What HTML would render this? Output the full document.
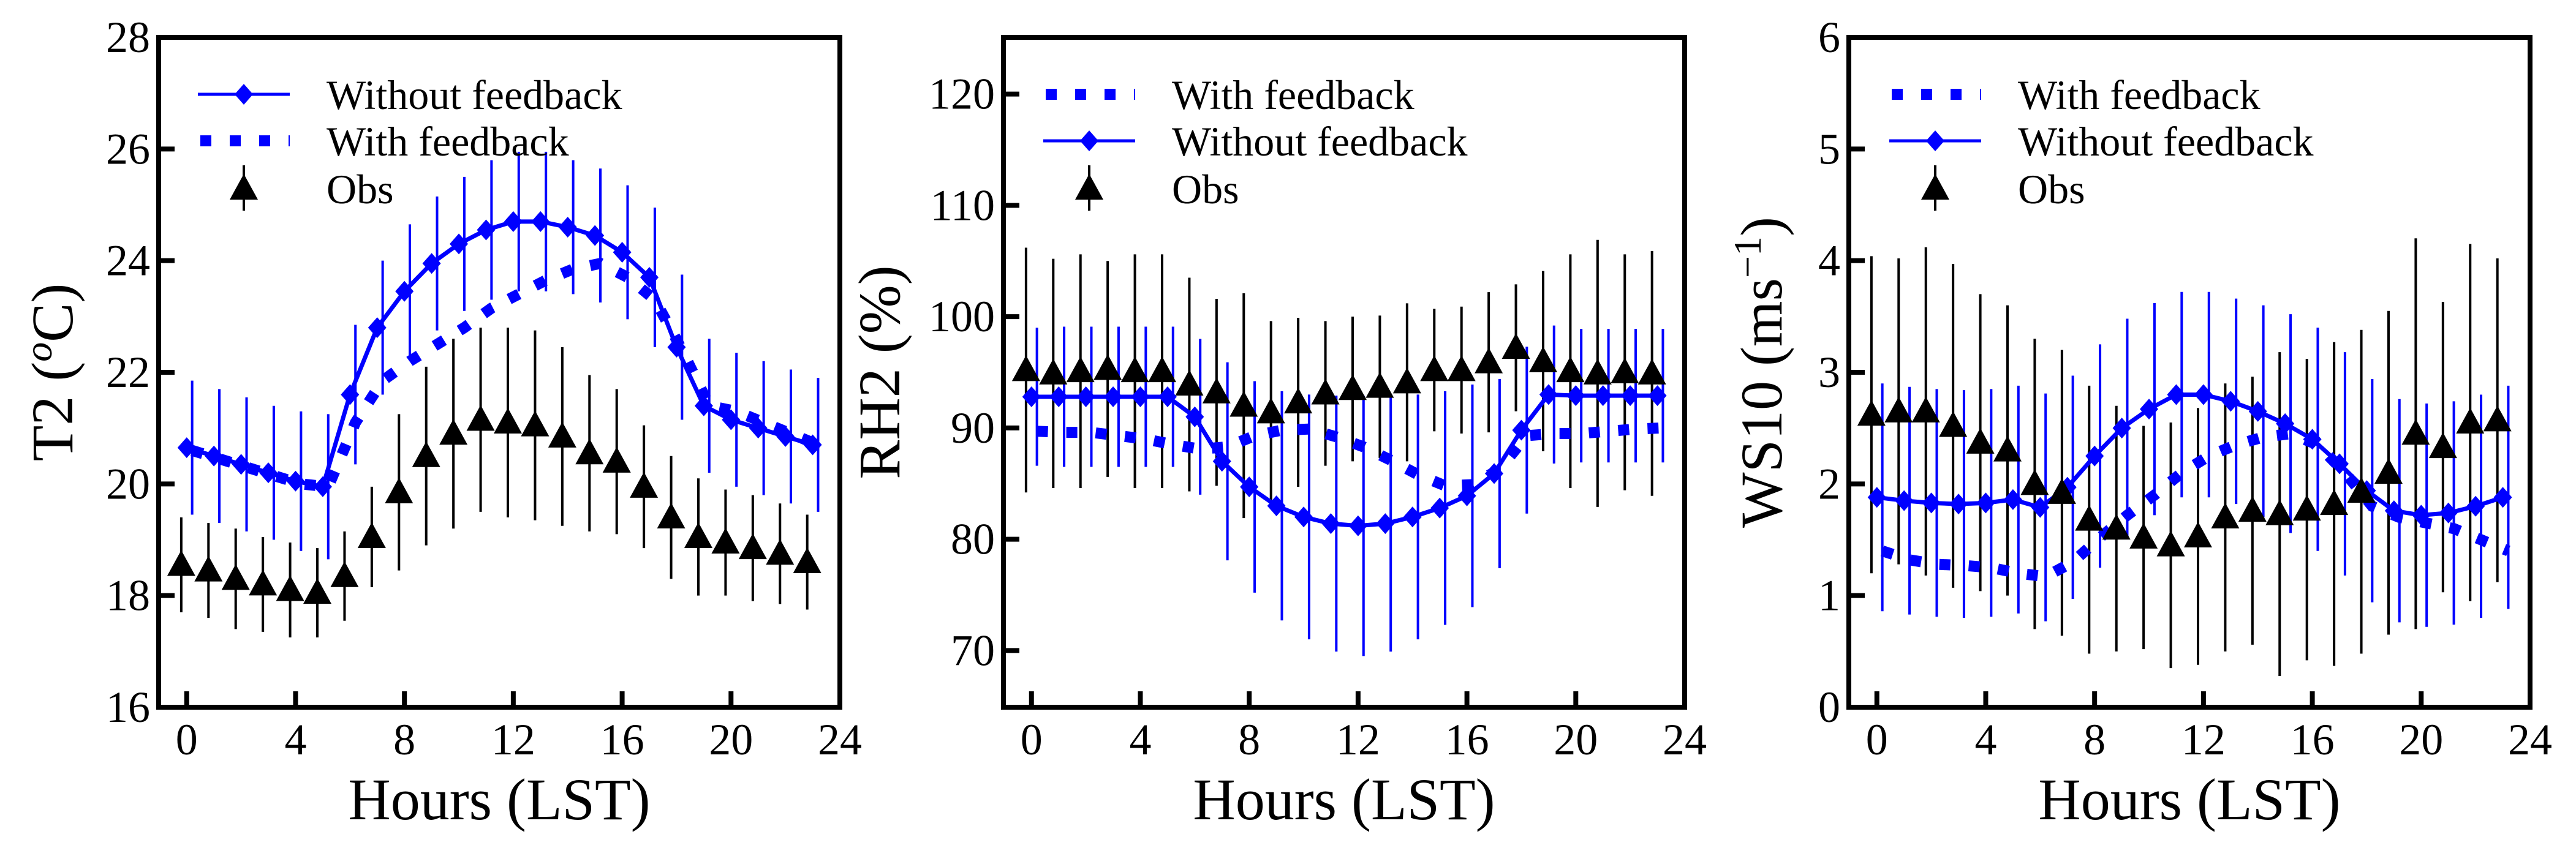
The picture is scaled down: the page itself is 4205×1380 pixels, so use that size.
<!DOCTYPE html>
<html><head><meta charset="utf-8"><style>
html,body{margin:0;padding:0;background:#fff}
svg{display:block}
text{font-family:"Liberation Serif","Times New Roman",serif;fill:#000}
</style></head><body>
<svg id="fig" width="4205" height="1380" viewBox="0 0 4205 1380" xmlns="http://www.w3.org/2000/svg"></svg>
<script>
const hours=[0,1,2,3,4,5,6,7,8,9,10,11,12,13,14,15,16,17,18,19,20,21,22,23];
// Panel 1: T2
const t2Without=[20.65,20.5,20.35,20.2,20.05,19.95,21.6,22.8,23.45,23.95,24.3,24.55,24.7,24.7,24.6,24.45,24.15,23.7,22.45,21.4,21.15,21.0,20.85,20.7];
const t2With=[20.6,20.45,20.3,20.15,20.0,19.95,21.1,21.85,22.2,22.5,22.8,23.15,23.4,23.65,23.85,23.95,23.7,23.3,22.4,21.4,21.3,21.1,20.9,20.7];
const t2ModelErr=[1.2,1.2,1.2,1.2,1.25,1.3,1.25,1.2,1.2,1.2,1.2,1.25,1.25,1.25,1.2,1.2,1.2,1.25,1.3,1.2,1.2,1.2,1.2,1.2];
const t2Obs=[18.55,18.45,18.3,18.2,18.1,18.05,18.35,19.05,19.85,20.5,20.9,21.15,21.1,21.05,20.85,20.55,20.4,19.95,19.4,19.05,18.95,18.85,18.75,18.6];
const t2ObsErr=[0.85,0.85,0.9,0.85,0.85,0.8,0.8,0.9,1.4,1.6,1.7,1.65,1.7,1.7,1.6,1.4,1.3,1.1,1.1,1.05,0.95,0.95,0.9,0.85];
const t2Ticks=[16,18,20,22,24,26,28];
// Panel 2: RH2
const rhWithout=[92.8,92.8,92.8,92.8,92.8,92.8,91.0,87.0,84.7,83.0,82.0,81.4,81.2,81.4,82.0,82.8,83.9,85.9,89.8,93.0,92.9,92.9,92.9,92.9];
const rhWith=[89.7,89.6,89.6,89.3,89.0,88.5,88.1,88.3,89.3,89.8,89.9,89.2,88.3,87.1,85.8,84.8,84.9,86.3,89.3,89.5,89.5,89.7,89.9,90.0];
const rhModelErr=[6.2,6.3,6.3,6.3,6.3,6.3,7,8.9,9.5,10.3,11,11.5,11.7,11.5,11,10.5,10,8.5,7.5,6.2,6,6,6,6];
const rhObs=[95.2,94.9,95.1,95.3,95.1,95.1,93.9,93.2,92.0,91.4,92.3,93.1,93.5,93.7,94.1,95.2,95.2,95.9,97.2,96.0,95.1,94.9,95.0,94.9];
const rhObsErr=[11,10.3,10.5,9.7,10.5,10.5,9.6,8.4,10.1,8.2,7.6,6.5,6.5,6.4,7.1,5.5,5.7,6.3,5.7,8.1,10.5,12,10.6,11];
const rhTicks=[70,80,90,100,110,120];
// Panel 3: WS10
const wsWithout=[1.88,1.85,1.83,1.82,1.83,1.86,1.79,1.97,2.25,2.5,2.67,2.8,2.8,2.74,2.65,2.54,2.4,2.18,1.94,1.76,1.72,1.74,1.8,1.88];
const wsWith=[1.4,1.32,1.28,1.27,1.25,1.2,1.17,1.3,1.52,1.72,1.9,2.1,2.25,2.35,2.42,2.45,2.35,2.1,1.8,1.7,1.65,1.6,1.5,1.4];
const wsModelErr=[1.02,1.02,1.02,1.02,1.02,1.02,1.02,1.0,1.0,0.98,0.95,0.92,0.92,0.92,0.95,0.98,1.0,1.0,1.0,1.0,1.0,1.0,1.0,1.0];
const wsObs=[2.62,2.65,2.65,2.52,2.37,2.3,2.0,1.92,1.68,1.6,1.52,1.45,1.53,1.7,1.76,1.73,1.77,1.82,1.93,2.1,2.45,2.33,2.55,2.57];
const wsObsErr=[1.42,1.37,1.47,1.45,1.33,1.3,1.3,1.28,1.2,1.1,1.0,1.1,1.15,1.2,1.2,1.45,1.35,1.45,1.45,1.45,1.75,1.3,1.6,1.45];
const wsTicks=[0,1,2,3,4,5,6];
const xTicks=[0,4,8,12,16,20,24];

const NS="http://www.w3.org/2000/svg";
const svg=document.getElementById('fig');
function mk(tag,attrs,parent){const e=document.createElementNS(NS,tag);for(const k in attrs)e.setAttribute(k,attrs[k]);(parent||svg).appendChild(e);return e;}

function panel(cfg){
  const g=mk('g',{});
  
  
  const L=cfg.left,R=cfg.left+1112,T=61,B=1155;
  const xs=h=>L+(h+1.03)/(25.03)*(R-L);
  const ys=v=>B-(v-cfg.ymin)/(cfg.ymax-cfg.ymin)*(B-T);
  cfg.yticks.forEach(v=>{
    const t=mk('line',{x1:L,x2:L+26,y1:ys(v),y2:ys(v),stroke:'#000','stroke-width':8},g);
    
    
    const lb=mk('text',{x:L-14,y:ys(v)+24,'font-size':72,'text-anchor':'end'},g);
    
    
    lb.textContent=v;
  });
  xTicks.forEach(h=>{
    const t=mk('line',{x1:xs(h),x2:xs(h),y1:B,y2:B-26,stroke:'#000','stroke-width':8},g);
    
    
    const lb=mk('text',{x:xs(h),y:1232,'font-size':72,'text-anchor':'middle'},g);
    
    
    lb.textContent=h;
  });
  hours.forEach((h,i)=>{
    const e=mk('line',{x1:xs(h+0.2),x2:xs(h+0.2),y1:ys(cfg.without[i]-cfg.merr[i]),y2:ys(cfg.without[i]+cfg.merr[i]),stroke:'#0000ff','stroke-width':4},g);
    
    
  });
  hours.forEach((h,i)=>{
    const x=xs(h-0.2);
    const e=mk('line',{x1:x,x2:x,y1:ys(cfg.obs[i]-cfg.oerr[i]),y2:ys(cfg.obs[i]+cfg.oerr[i]),stroke:'#000','stroke-width':4},g);
    
    
  });
  const wp=hours.map((h,i)=>xs(h+0.2)+','+ys(cfg.withf[i])).join(' ');
  const wl=mk('polyline',{points:wp,fill:'none',stroke:'#0000ff','stroke-width':18,'stroke-dasharray':'18 30'},g);
  
  
  const sp=hours.map((h,i)=>xs(h)+','+ys(cfg.without[i])).join(' ');
  const sl=mk('polyline',{points:sp,fill:'none',stroke:'#0000ff','stroke-width':7},g);
  
  
  hours.forEach((h,i)=>{
    const x=xs(h),y=ys(cfg.without[i]);
    const d=mk('polygon',{points:`${x},${y-17} ${x+15},${y} ${x},${y+17} ${x-15},${y}`,fill:'#0000ff'},g);
    
    
  });
  hours.forEach((h,i)=>{
    const x=xs(h-0.2),y=ys(cfg.obs[i]);
    const tr=mk('polygon',{points:`${x},${y-24} ${x+23},${y+18} ${x-23},${y+18}`,fill:'#000'},g);
    
    
  });
  const fr=mk('rect',{x:L,y:T,width:R-L,height:B-T,fill:'none',stroke:'#000','stroke-width':8},g);
  
  
  const lg=mk('g',{},g);
  
  
  const lx1=cfg.leg,lx2=cfg.leg+150,tx=cfg.leg+210;
  const rows=[154,230,308];
  cfg.legendOrder.forEach((k,r)=>{
    const y=rows[r];
    if(k==='without'){
      const l=mk('line',{x1:lx1,x2:lx2,y1:y,y2:y,stroke:'#0000ff','stroke-width':5},lg);
      
      
      const m=(lx1+lx2)/2;
      const d=mk('polygon',{points:`${m},${y-17} ${m+15},${y} ${m},${y+17} ${m-15},${y}`,fill:'#0000ff'},lg);
      
      
    } else if(k==='with'){
      const l=mk('line',{x1:lx1+4,x2:lx2,y1:y,y2:y,stroke:'#0000ff','stroke-width':18,'stroke-dasharray':'18 30'},lg);
      
      
    } else {
      const m=(lx1+lx2)/2;
      const l=mk('line',{x1:m,x2:m,y1:y-38,y2:y+36,stroke:'#000','stroke-width':4},lg);
      
      
      const tr=mk('polygon',{points:`${m},${y-24} ${m+23},${y+18} ${m-23},${y+18}`,fill:'#000'},lg);
      
      
    }
    const t=mk('text',{x:tx,y:y+24,'font-size':68},lg);
    
    
    t.textContent=k==='without'?'Without feedback':(k==='with'?'With feedback':'Obs');
  });
  const xl=mk('text',{x:(L+R)/2,y:1338,'font-size':96,'text-anchor':'middle'},g);
  
  
  xl.textContent='Hours (LST)';
  const yl=mk('text',{x:0,y:0,'font-size':96,'text-anchor':'middle',transform:`translate(${cfg.ylx},608) rotate(-90)`},g);
  
  
  yl.innerHTML=cfg.ylabel;
}
panel({name:'t2-panel',left:259,ymin:16,ymax:28,yticks:t2Ticks,without:t2Without,withf:t2With,merr:t2ModelErr,obs:t2Obs,oerr:t2ObsErr,leg:323,legendOrder:['without','with','obs'],ylx:118,ylabel:'T2 (<tspan font-style="italic" font-size="64" dy="-34">o</tspan><tspan dy="34">C)</tspan>'});
panel({name:'rh2-panel',left:1638,ymin:64.9,ymax:125.1,yticks:rhTicks,without:rhWithout,withf:rhWith,merr:rhModelErr,obs:rhObs,oerr:rhObsErr,leg:1703,legendOrder:['with','without','obs'],ylx:1468,ylabel:'RH2 (%)'});
panel({name:'ws10-panel',left:3018,ymin:0,ymax:6,yticks:wsTicks,without:wsWithout,withf:wsWith,merr:wsModelErr,obs:wsObs,oerr:wsObsErr,leg:3084,legendOrder:['with','without','obs'],ylx:2908,ylabel:'WS10 (ms<tspan font-size="64" dy="-34">−1</tspan><tspan dy="34">)</tspan>'});
</script>
</body></html>
